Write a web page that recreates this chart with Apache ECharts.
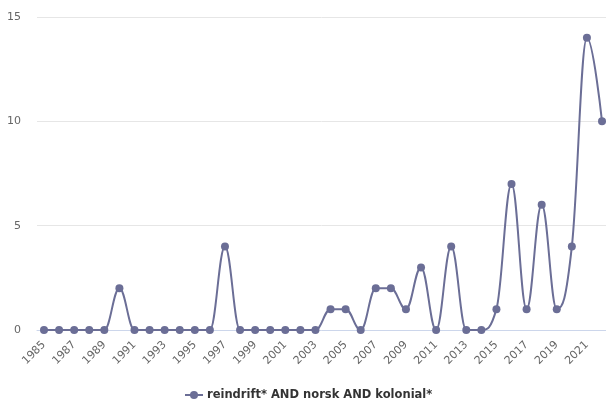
<!DOCTYPE html>
<html><head><meta charset="utf-8">
<script src="https://cdn.jsdelivr.net/npm/echarts@6/dist/echarts.min.js"></script>
<style>html,body{margin:0;padding:0;background:#fff}#c{width:606px;height:403px}</style>
</head><body><div id="c"></div>
<script>
const years = [1985,1986,1987,1988,1989,1990,1991,1992,1993,1994,1995,1996,1997,1998,1999,2000,2001,2002,2003,2004,2005,2006,2007,2008,2009,2010,2011,2012,2013,2014,2015,2016,2017,2018,2019,2020,2021,2022];
const values = [0,0,0,0,0,2,0,0,0,0,0,0,4,0,0,0,0,0,0,1,1,0,2,2,1,3,0,4,0,0,1,7,1,6,1,4,14,10];
const xTickLabels = [1985,1987,1989,1991,1993,1995,1997,1999,2001,2003,2005,2007,2009,2011,2013,2015,2017,2019,2021];
const seriesName = 'reindrift* AND norsk AND kolonial*';
const color = '#6b6e96';

// spline path through points given in pixel space
function splinePath(pts) {
  const s = 1.5, d = s + 1;
  const cont = pts.map((p, i) => {
    if (i === 0 || i === pts.length - 1) return {lx: p[0], ly: p[1], rx: p[0], ry: p[1]};
    const prev = pts[i - 1], next = pts[i + 1];
    let lx = (s * p[0] + prev[0]) / d, ly = (s * p[1] + prev[1]) / d;
    let rx = (s * p[0] + next[0]) / d, ry = (s * p[1] + next[1]) / d;
    if (rx !== lx) {
      const corr = ((ry - ly) * (rx - p[0])) / (rx - lx) + p[1] - ry;
      ly += corr; ry += corr;
    }
    if (ly > prev[1] && ly > p[1]) { ly = Math.max(prev[1], p[1]); ry = 2 * p[1] - ly; }
    else if (ly < prev[1] && ly < p[1]) { ly = Math.min(prev[1], p[1]); ry = 2 * p[1] - ly; }
    if (ry > next[1] && ry > p[1]) { ry = Math.max(next[1], p[1]); ly = 2 * p[1] - ry; }
    else if (ry < next[1] && ry < p[1]) { ry = Math.min(next[1], p[1]); ly = 2 * p[1] - ry; }
    return {lx, ly, rx, ry};
  });
  let path = 'M' + pts[0][0] + ' ' + pts[0][1];
  for (let i = 1; i < pts.length; i++) {
    const a = cont[i - 1], b = cont[i];
    path += ' C' + a.rx + ' ' + a.ry + ' ' + b.lx + ' ' + b.ly + ' ' + pts[i][0] + ' ' + pts[i][1];
  }
  return path;
}

const chart = echarts.init(document.getElementById('c'));
chart.setOption({
  animation: false,
  textStyle: {fontFamily: 'DejaVu Sans'},
  grid: {left: 37, right: 0, top: 17, bottom: 73, containLabel: false},
  xAxis: {
    type: 'value', min: 1984.536, max: 2022.265,
    axisLine: {show: true, lineStyle: {color: '#ccd6eb'}},
    axisTick: {show: false},
    splitLine: {show: false},
    axisLabel: {customValues: xTickLabels, rotate: 45, color: '#666', fontSize: 11, margin: 13,
      formatter: v => String(v)}
  },
  yAxis: {
    type: 'value', min: 0, max: 15, interval: 5,
    axisLine: {show: false}, axisTick: {show: false},
    splitLine: {lineStyle: {color: '#e6e6e6'}},
    axisLabel: {color: '#666', fontSize: 11, margin: 16}
  },
  legend: {
    top: 384, left: 179, itemWidth: 18, itemHeight: 10, itemGap: 4,
    textStyle: {color: '#333', fontSize: 11.5, fontWeight: 'bold', padding: [0, 0, 0, -1]},
    data: [{name: seriesName, lineStyle: {color: color, width: 2, opacity: 1}}]
  },
  series: [{
    name: 'curve', type: 'custom', clip: false, silent: true, z: 2,
    data: [[years[0], values[0]]],
    renderItem: function (params, api) {
      const pts = years.map((y, i) => api.coord([y, values[i]]));
      return {
        type: 'path',
        shape: {pathData: splinePath(pts)},
        style: {fill: null, stroke: color, lineWidth: 2}
      };
    }
  }, {
    name: seriesName, type: 'line',
    data: years.map((y, i) => [y, values[i]]),
    symbol: 'circle', symbolSize: 8, z: 3,
    lineStyle: {color: color, width: 2, opacity: 0},
    itemStyle: {color: color},
    clip: false
  }]
});
</script></body></html>
